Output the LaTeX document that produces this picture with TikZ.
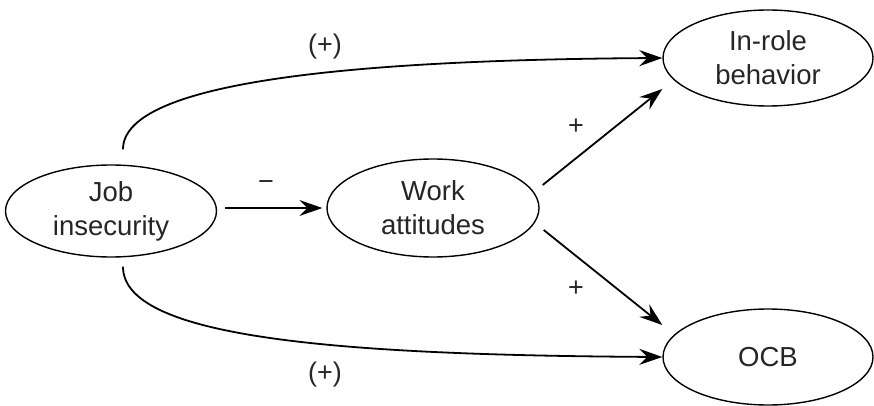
\documentclass[tikz,border=0pt]{standalone}
\usepackage{fontspec}
\setmainfont{Liberation Sans}
\usetikzlibrary{shapes.geometric,arrows.meta}
\begin{document}
\begin{tikzpicture}[x=1pt,y=-1pt,
  var/.style={ellipse,draw,line width=1.4pt,inner sep=0pt,align=center,
    font=\fontsize{27.5}{34}\selectfont,text=black!85},
  conn/.style={line width=1.8pt,-{Stealth[length=23pt,width=16pt,inset=8pt]}},
  sign/.style={font=\fontsize{27}{30}\selectfont,text=black!85}]
\useasboundingbox (0,0) rectangle (874,406);
\node[var,minimum width=211pt,minimum height=92pt] (job) at (111,211) {Job\\insecurity};
\node[var,minimum width=212pt,minimum height=98pt] (work) at (433,208) {Work\\attitudes};
\node[var,minimum width=210pt,minimum height=96pt] (inrole) at (768,58) {In-role\\behavior};
\node[var,minimum width=210pt,minimum height=96pt] (ocb) at (768,357) {OCB};
\draw[conn] ([xshift=8pt,yshift=3pt]job.east) -- ([xshift=-4pt]work.west);
\draw[conn] ([xshift=12pt,yshift=15pt]job.north) .. controls (123,85) and (330,60) .. (inrole.west);
\draw[conn] ([xshift=12pt,yshift=-9pt]job.south) .. controls (123,337) and (330,355) .. (ocb.west);
\draw[conn] ([xshift=3pt,yshift=23pt]work.east) -- ([yshift=-31pt]inrole.west);
\draw[conn] ([xshift=4pt,yshift=-22pt]work.east) -- ([yshift=32pt]ocb.west);
\node[sign] (m) at (266,186) {−};
\node[sign] (p1) at (325,47) {(+)};
\node[sign] (p2) at (325,375) {(+)};
\node[sign] (p3) at (576,127) {+};
\node[sign] (p4) at (576,289) {+};
\end{tikzpicture}
\end{document}
